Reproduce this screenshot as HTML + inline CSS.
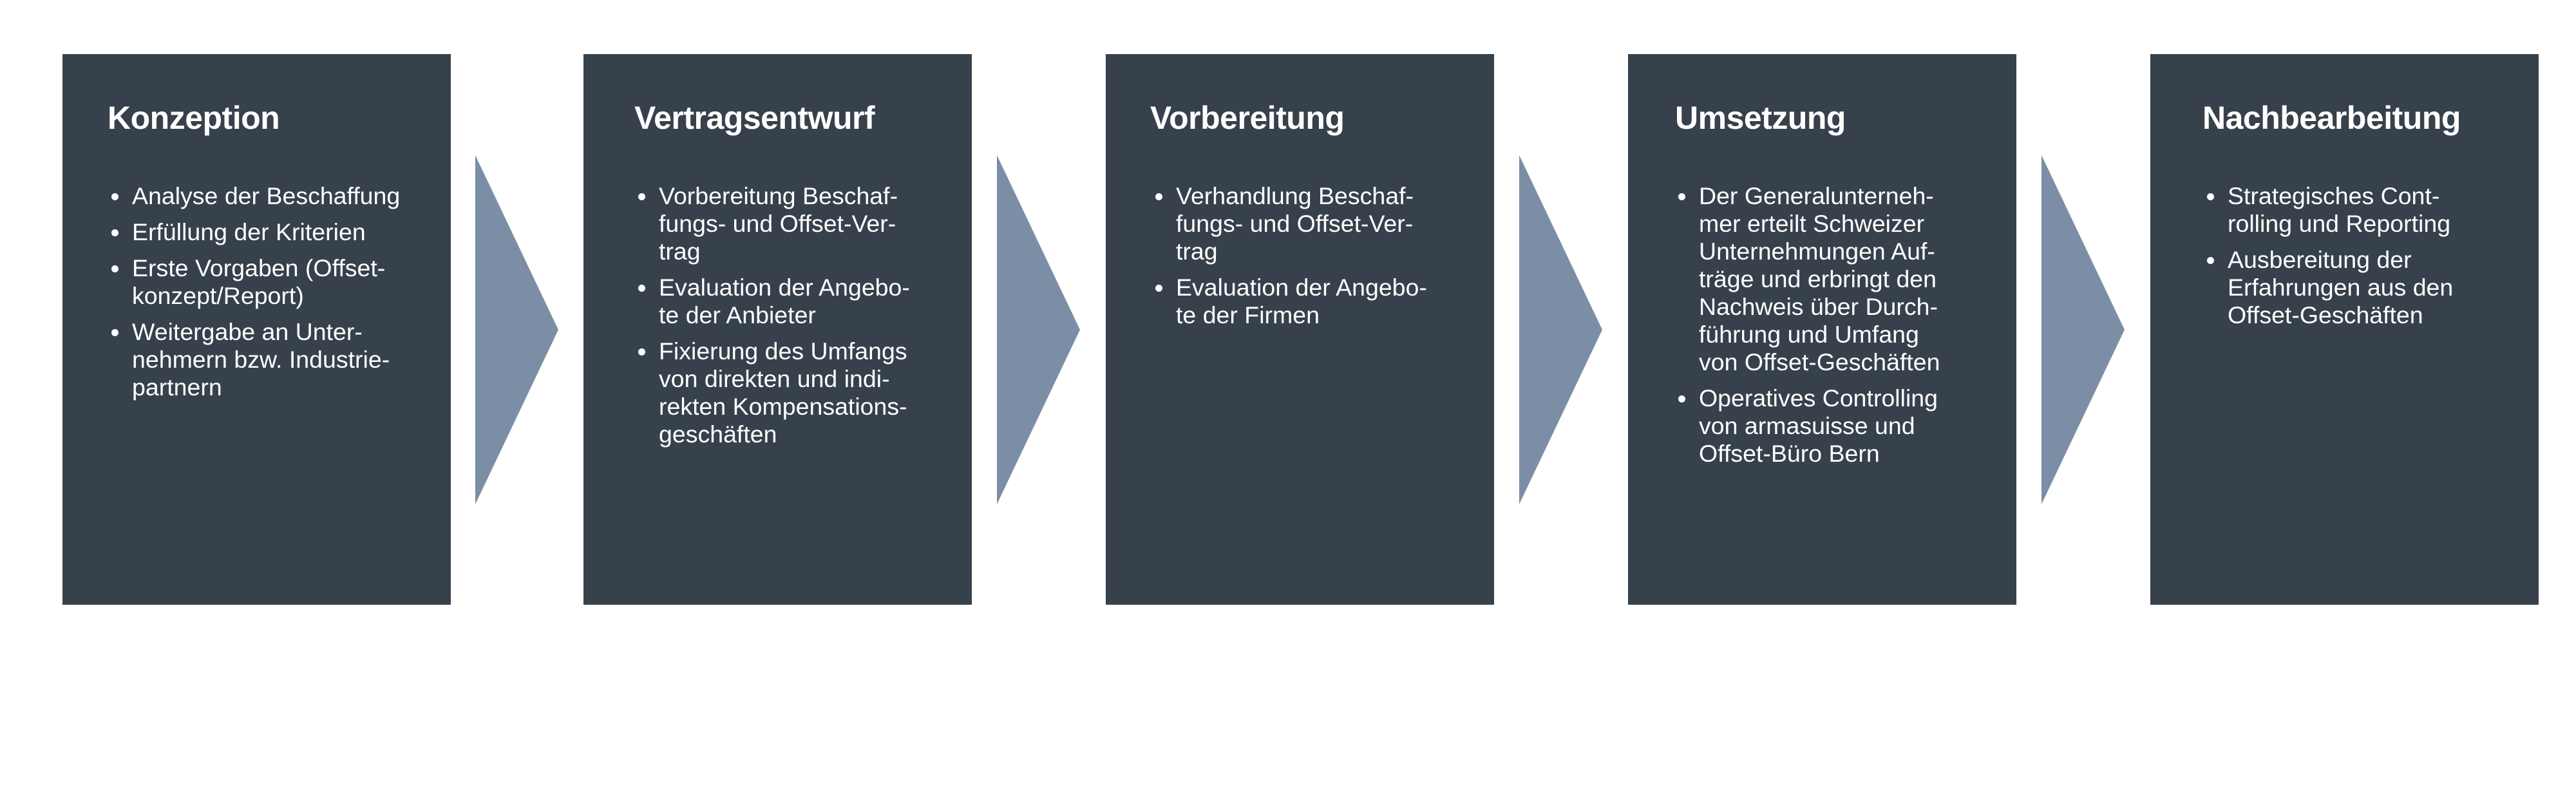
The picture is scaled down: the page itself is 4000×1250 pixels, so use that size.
<!DOCTYPE html>
<html><head><meta charset="utf-8"><style>
body{margin:0;width:4000px;height:1250px;background:#fff;position:relative;overflow:hidden;font-family:"Liberation Sans",sans-serif;color:#fff}
.box{position:absolute;top:84px;width:603px;height:855px;background:#37414b}
.t{position:absolute;top:158px;font-size:50px;font-weight:bold;line-height:50px;white-space:nowrap;letter-spacing:-0.5px}
.l{position:absolute;top:283px;font-size:37.5px;line-height:43px;white-space:nowrap}
.i{position:relative;margin-bottom:13px}
.i:before{content:"";position:absolute;left:-32px;top:17px;width:11px;height:11px;border-radius:50%;background:#fff}
svg{position:absolute;top:0;left:0}
</style></head><body>
<div class="box" style="left:97px"></div>
<div class="box" style="left:906px"></div>
<div class="box" style="left:1717px"></div>
<div class="box" style="left:2528px"></div>
<div class="box" style="left:3339px"></div>
<svg width="4000" height="1250">
<polygon points="738,241 867,512 738,783" fill="#7b8ea6"/>
<polygon points="1548,241 1677,512 1548,783" fill="#7b8ea6"/>
<polygon points="2359,241 2488,512 2359,783" fill="#7b8ea6"/>
<polygon points="3170,241 3299,512 3170,783" fill="#7b8ea6"/>
</svg>
<div class="t" style="left:167px">Konzeption</div>
<div class="l" style="left:205px">
<div class="i">Analyse der Beschaffung</div>
<div class="i">Erfüllung der Kriterien</div>
<div class="i">Erste Vorgaben (Offset-<br>konzept/Report)</div>
<div class="i">Weitergabe an Unter-<br>nehmern bzw. Industrie-<br>partnern</div>
</div>
<div class="t" style="left:985px">Vertragsentwurf</div>
<div class="l" style="left:1023px">
<div class="i">Vorbereitung Beschaf-<br>fungs- und Offset-Ver-<br>trag</div>
<div class="i">Evaluation der Angebo-<br>te der Anbieter</div>
<div class="i">Fixierung des Umfangs<br>von direkten und indi-<br>rekten Kompensations-<br>geschäften</div>
</div>
<div class="t" style="left:1786px">Vorbereitung</div>
<div class="l" style="left:1826px">
<div class="i">Verhandlung Beschaf-<br>fungs- und Offset-Ver-<br>trag</div>
<div class="i">Evaluation der Angebo-<br>te der Firmen</div>
</div>
<div class="t" style="left:2601px">Umsetzung</div>
<div class="l" style="left:2638px">
<div class="i">Der Generalunterneh-<br>mer erteilt Schweizer<br>Unternehmungen Auf-<br>träge und erbringt den<br>Nachweis über Durch-<br>führung und Umfang<br>von Offset-Geschäften</div>
<div class="i">Operatives Controlling<br>von armasuisse und<br>Offset-Büro Bern</div>
</div>
<div class="t" style="left:3420px">Nachbearbeitung</div>
<div class="l" style="left:3459px">
<div class="i">Strategisches Cont-<br>rolling und Reporting</div>
<div class="i">Ausbereitung der<br>Erfahrungen aus den<br>Offset-Geschäften</div>
</div>
</body></html>
